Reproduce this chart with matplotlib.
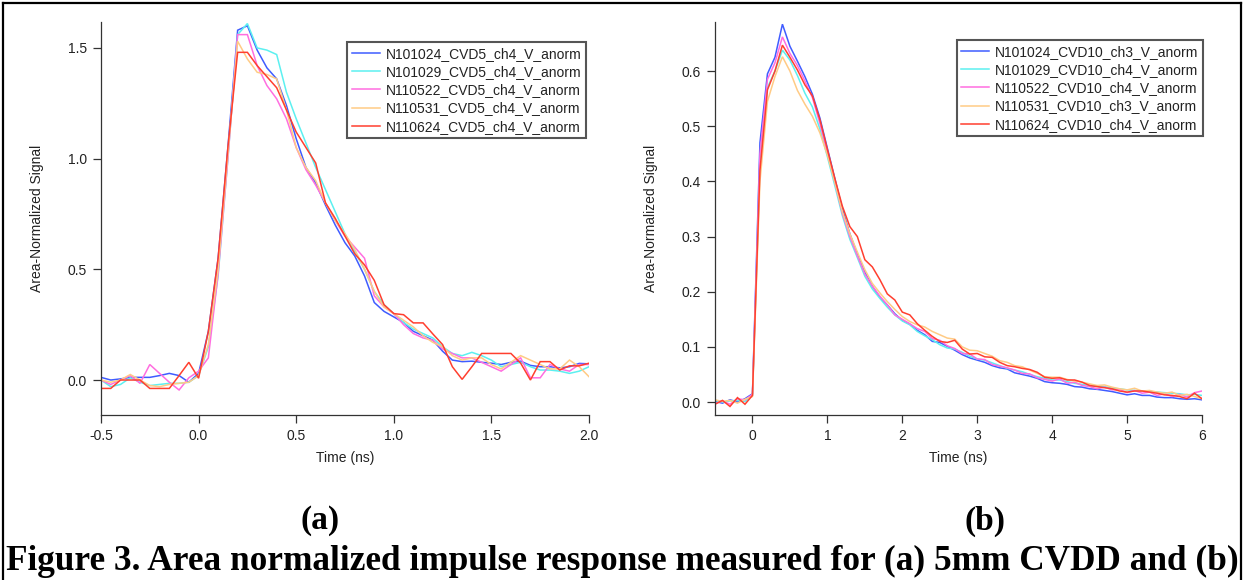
import numpy as np
import matplotlib
matplotlib.use("Agg")
import matplotlib.pyplot as plt
from matplotlib.lines import Line2D

# ---------------- data ----------------
# panel (a): 5 mm CVDD, time in ns
time_a = [-0.50, -0.45, -0.40, -0.35, -0.30, -0.25, -0.20, -0.15, -0.10, -0.05,
          0.00, 0.05, 0.10, 0.15, 0.20, 0.25, 0.30, 0.35, 0.40, 0.45,
          0.50, 0.55, 0.60, 0.65, 0.70, 0.75, 0.80, 0.85, 0.90, 0.95,
          1.00, 1.05, 1.10, 1.15, 1.20, 1.25, 1.30, 1.35, 1.40, 1.45,
          1.50, 1.55, 1.60, 1.65, 1.70, 1.75, 1.80, 1.85, 1.90, 1.95, 2.00]

a_N101024 = [0.012, 0.000, 0.005, 0.012, 0.012, 0.012, 0.020, 0.030, 0.020, -0.010,
             0.030, 0.22, 0.55, 1.05, 1.58, 1.60, 1.49, 1.41, 1.36, 1.24,
             1.09, 0.96, 0.89, 0.79, 0.70, 0.62, 0.56, 0.47, 0.35, 0.31,
             0.285, 0.26, 0.22, 0.20, 0.18, 0.13, 0.09, 0.083, 0.085, 0.080,
             0.076, 0.070, 0.080, 0.085, 0.066, 0.060, 0.060, 0.055, 0.060, 0.075, 0.073]
a_N101029 = [0.000, -0.030, -0.020, 0.010, -0.010, -0.025, -0.020, -0.015, -0.015, -0.010,
             0.020, 0.15, 0.47, 1.00, 1.56, 1.61, 1.50, 1.49, 1.47, 1.30,
             1.18, 1.07, 0.96, 0.86, 0.76, 0.66, 0.58, 0.50, 0.40, 0.34,
             0.30, 0.26, 0.23, 0.21, 0.19, 0.15, 0.12, 0.11, 0.125, 0.11,
             0.09, 0.06, 0.07, 0.08, 0.06, 0.045, 0.045, 0.040, 0.030, 0.040, 0.060]
a_N110522 = [0.000, -0.020, 0.000, 0.020, -0.015, 0.070, 0.030, -0.010, -0.045, 0.010,
             0.040, 0.10, 0.48, 1.00, 1.56, 1.56, 1.42, 1.33, 1.27, 1.18,
             1.05, 0.95, 0.88, 0.80, 0.72, 0.65, 0.60, 0.55, 0.38, 0.33,
             0.30, 0.25, 0.21, 0.19, 0.18, 0.14, 0.12, 0.10, 0.10, 0.08,
             0.06, 0.04, 0.07, 0.10, 0.01, 0.01, 0.07, 0.05, 0.04, 0.07, 0.07]
a_N110531 = [0.000, -0.010, 0.000, 0.025, 0.000, -0.025, -0.030, -0.020, -0.015, -0.010,
             0.020, 0.16, 0.50, 1.02, 1.53, 1.45, 1.39, 1.38, 1.36, 1.22,
             1.05, 0.96, 0.90, 0.80, 0.72, 0.66, 0.59, 0.50, 0.40, 0.33,
             0.30, 0.27, 0.24, 0.20, 0.17, 0.15, 0.11, 0.09, 0.10, 0.10,
             0.07, 0.05, 0.08, 0.11, 0.09, 0.07, 0.05, 0.05, 0.09, 0.06, 0.015]
a_N110624 = [-0.038, -0.038, 0.000, 0.000, 0.000, -0.038, -0.038, -0.038, 0.020, 0.080,
             0.008, 0.22, 0.55, 1.05, 1.48, 1.48, 1.42, 1.37, 1.32, 1.22,
             1.12, 1.05, 0.98, 0.80, 0.73, 0.65, 0.57, 0.52, 0.45, 0.34,
             0.30, 0.295, 0.258, 0.258, 0.208, 0.16, 0.06, 0.003, 0.06, 0.12,
             0.12, 0.12, 0.12, 0.076, 0.000, 0.083, 0.083, 0.045, 0.064, 0.064, 0.076]

# panel (b): 10 mm CVDD, time in ns
time_b = [-0.5, -0.4, -0.3, -0.2, -0.1, 0.0, 0.1, 0.2, 0.3, 0.4,
          0.5, 0.6, 0.7, 0.8, 0.9, 1.0, 1.1, 1.2, 1.3, 1.4,
          1.5, 1.6, 1.7, 1.8, 1.9, 2.0, 2.1, 2.2, 2.3, 2.4,
          2.5, 2.6, 2.7, 2.8, 2.9, 3.0, 3.1, 3.2, 3.3, 3.4,
          3.5, 3.6, 3.7, 3.8, 3.9, 4.0, 4.1, 4.2, 4.3, 4.4,
          4.5, 4.6, 4.7, 4.8, 4.9, 5.0, 5.1, 5.2, 5.3, 5.4,
          5.5, 5.6, 5.7, 5.8, 5.9, 6.0]

b_N101024 = [0.001, -0.002, 0.004, 0.000, 0.006, 0.015, 0.47, 0.595, 0.625, 0.685,
             0.645, 0.618, 0.590, 0.558, 0.515, 0.460, 0.405, 0.350, 0.305, 0.268,
             0.235, 0.210, 0.190, 0.176, 0.160, 0.148, 0.141, 0.130, 0.122, 0.110,
             0.108, 0.101, 0.094, 0.086, 0.080, 0.076, 0.072, 0.066, 0.062, 0.060,
             0.053, 0.050, 0.047, 0.043, 0.037, 0.035, 0.034, 0.032, 0.028, 0.027,
             0.024, 0.023, 0.021, 0.019, 0.016, 0.013, 0.015, 0.012, 0.012, 0.009,
             0.008, 0.008, 0.006, 0.005, 0.006, 0.004]
b_N101029 = [0.003, 0.000, 0.002, 0.003, 0.001, 0.012, 0.43, 0.570, 0.600, 0.638,
             0.620, 0.592, 0.560, 0.535, 0.495, 0.445, 0.392, 0.338, 0.295, 0.262,
             0.228, 0.205, 0.188, 0.172, 0.158, 0.147, 0.140, 0.128, 0.120, 0.113,
             0.104, 0.098, 0.096, 0.090, 0.083, 0.078, 0.076, 0.071, 0.066, 0.061,
             0.058, 0.055, 0.050, 0.046, 0.043, 0.040, 0.040, 0.037, 0.034, 0.032,
             0.030, 0.028, 0.028, 0.025, 0.024, 0.022, 0.021, 0.020, 0.019, 0.018,
             0.017, 0.016, 0.015, 0.013, 0.014, 0.012]
b_N110522 = [-0.003, 0.002, -0.004, 0.006, 0.004, 0.014, 0.45, 0.585, 0.615, 0.662,
             0.632, 0.610, 0.582, 0.552, 0.505, 0.452, 0.398, 0.342, 0.300, 0.265,
             0.232, 0.210, 0.192, 0.176, 0.158, 0.150, 0.142, 0.133, 0.128, 0.115,
             0.112, 0.102, 0.097, 0.088, 0.087, 0.078, 0.077, 0.068, 0.065, 0.062,
             0.058, 0.052, 0.051, 0.044, 0.041, 0.038, 0.042, 0.034, 0.036, 0.030,
             0.028, 0.024, 0.027, 0.022, 0.023, 0.017, 0.021, 0.016, 0.018, 0.012,
             0.015, 0.010, 0.014, 0.009, 0.017, 0.020]
b_N110531 = [0.004, 0.001, 0.003, -0.002, 0.005, 0.010, 0.40, 0.545, 0.590, 0.626,
             0.600, 0.565, 0.540, 0.518, 0.488, 0.448, 0.398, 0.345, 0.305, 0.272,
             0.240, 0.215, 0.198, 0.182, 0.168, 0.155, 0.146, 0.140, 0.136, 0.128,
             0.122, 0.116, 0.114, 0.100, 0.094, 0.093, 0.088, 0.083, 0.075, 0.072,
             0.066, 0.064, 0.058, 0.052, 0.046, 0.045, 0.045, 0.041, 0.038, 0.036,
             0.033, 0.030, 0.031, 0.027, 0.024, 0.022, 0.025, 0.020, 0.021, 0.018,
             0.016, 0.018, 0.012, 0.014, 0.010, 0.006]
b_N110624 = [-0.004, 0.003, -0.008, 0.008, -0.004, 0.012, 0.42, 0.566, 0.600, 0.647,
             0.625, 0.602, 0.575, 0.555, 0.512, 0.458, 0.405, 0.355, 0.318, 0.300,
             0.258, 0.245, 0.222, 0.196, 0.185, 0.163, 0.158, 0.142, 0.130, 0.119,
             0.110, 0.108, 0.112, 0.096, 0.087, 0.088, 0.082, 0.081, 0.072, 0.066,
             0.064, 0.061, 0.059, 0.054, 0.045, 0.043, 0.044, 0.040, 0.040, 0.036,
             0.030, 0.028, 0.026, 0.024, 0.020, 0.018, 0.020, 0.020, 0.018, 0.016,
             0.013, 0.012, 0.010, 0.006, 0.016, 0.006]

labels_a = ["N101024_CVD5_ch4_V_anorm", "N101029_CVD5_ch4_V_anorm",
            "N110522_CVD5_ch4_V_anorm", "N110531_CVD5_ch4_V_anorm",
            "N110624_CVD5_ch4_V_anorm"]
labels_b = ["N101024_CVD10_ch3_V_anorm", "N101029_CVD10_ch4_V_anorm",
            "N110522_CVD10_ch4_V_anorm", "N110531_CVD10_ch3_V_anorm",
            "N110624_CVD10_ch4_V_anorm"]
series_a = [a_N101024, a_N101029, a_N110522, a_N110531, a_N110624]
series_b = [b_N101024, b_N101029, b_N110522, b_N110531, b_N110624]

yticks_a = [0.0, 0.5, 1.0, 1.5]
xticks_a = [-0.5, 0.0, 0.5, 1.0, 1.5, 2.0]
yticks_b = [0.0, 0.1, 0.2, 0.3, 0.4, 0.5, 0.6]
xticks_b = [0, 1, 2, 3, 4, 5, 6]

colors = ["#3f5cff", "#5cf0f0", "#ff6ee0", "#ffcb85", "#ff3f2f"]

# ---------------- figure ----------------
plt.rcParams['font.family'] = ['Liberation Sans', 'DejaVu Sans']
W, H = 1244, 580
fig = plt.figure(figsize=(W / 100, H / 100), dpi=100)

def px_axes(x0, x1, ytop, ybot):
    return fig.add_axes([x0 / W, 1 - ybot / H, (x1 - x0) / W, (ybot - ytop) / H])

ax_a = px_axes(101, 589, 22, 415)
ax_b = px_axes(715, 1202, 22, 415)

def style(ax, xlim, ylim, xt, yt, xfmt, yfmt):
    ax.set_xlim(*xlim)
    ax.set_ylim(*ylim)
    ax.set_xticks(xt)
    ax.set_xticklabels([xfmt.format(v) for v in xt])
    ax.set_yticks(yt)
    ax.set_yticklabels([yfmt.format(v) for v in yt])
    for s in ("top", "right"):
        ax.spines[s].set_visible(False)
    for s in ("left", "bottom"):
        ax.spines[s].set_color("#333333")
        ax.spines[s].set_linewidth(0.9)
    ax.tick_params(direction="out", length=6, width=0.9, color="#333333",
                   labelsize=10, labelcolor="#222222", pad=4)
    ax.set_xlabel("Time (ns)", fontsize=10, color="#222222", labelpad=6)
    ax.set_ylabel("Area-Normalized Signal", fontsize=10, color="#222222", labelpad=17)
    ax.patch.set_visible(False)

for ax, t, series, labels in ((ax_a, time_a, series_a, labels_a),
                              (ax_b, time_b, series_b, labels_b)):
    for y, c, lab in zip(series, colors, labels):
        ax.plot(t, y, color=c, lw=1.1, label=lab, solid_joinstyle="miter")

style(ax_a, (-0.5, 2.0), (-0.158, 1.617), xticks_a, yticks_a, "{:.1f}", "{:.1f}")
style(ax_b, (-0.5, 6.0), (-0.0235, 0.689), xticks_b, yticks_b, "{:d}", "{:.1f}")

for ax, anchor in ((ax_a, (0.994, 0.949)), (ax_b, (1.002, 0.954))):
    leg = ax.legend(loc="upper right", bbox_to_anchor=anchor, borderaxespad=0,
                    fontsize=10, frameon=True, fancybox=False, framealpha=1,
                    handlelength=2.0, handletextpad=0.4, labelspacing=0.3,
                    borderpad=0.35)
    leg.get_frame().set_edgecolor("#555555")
    leg.get_frame().set_linewidth(1.5)
    for txt in leg.get_texts():
        txt.set_color("#222222")

# figure frame
for (x0, y0, x1, y1) in ((3, 590, 3, 3), (3, 3, 1241, 3), (1241, 3, 1241, 590)):
    fig.add_artist(Line2D([x0 / W, x1 / W], [1 - y0 / H, 1 - y1 / H],
                          color="black", lw=1.6, transform=fig.transFigure))

cap_font = ['Liberation Serif', 'DejaVu Serif']
fig.text(320 / W, 1 - 521 / H, "(a)", ha="center", va="center",
         fontsize=24, fontweight="bold", family=cap_font)
fig.text(985 / W, 1 - 521 / H, "(b)", ha="center", va="center",
         fontsize=24, fontweight="bold", family=cap_font)
cap = fig.text(622 / W, 1 - 561 / H,
               "Figure 3. Area normalized impulse response measured for (a) 5mm CVDD and (b)",
               ha="center", va="center", fontsize=21, fontweight="bold", family=cap_font)
fig.canvas.draw()
bw = cap.get_window_extent().width
cap.set_fontsize(21 * 1228.0 / bw)

fig.savefig("out.png", dpi=100)
